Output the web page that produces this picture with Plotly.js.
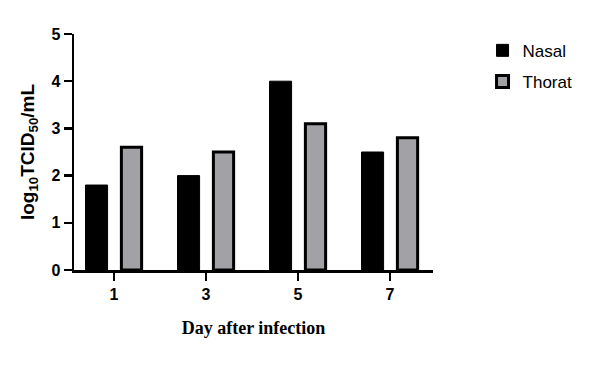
<!DOCTYPE html>
<html>
<head>
<meta charset="utf-8">
<script src="https://cdn.plot.ly/plotly-3.0.1.min.js"></script>
<style>html,body{margin:0;padding:0;background:#fff;}#chart{width:600px;height:379px;}</style>
</head>
<body>
<div id="chart"></div>
<script>
const days = ["1", "3", "5", "7"];
const nasal = [1.8, 2.0, 4.0, 2.5];
const thorat = [2.6, 2.5, 3.1, 2.8];
const yTicks = [0, 1, 2, 3, 4, 5];

const traces = [
  {
    type: "bar", name: "Nasal", x: days, y: nasal, legendgroup: "a",
    width: 0.24, offset: -0.31,
    marker: {color: "#000000", line: {color: "#000000", width: 1}}
  },
  {
    type: "bar", name: "Thorat", x: days, y: thorat, legendgroup: "b",
    width: 0.22, offset: 0.08,
    marker: {color: "#a2a2a6", line: {color: "#000000", width: 3}}
  }
];

const layout = {
  width: 600, height: 379,
  margin: {l: 74, r: 167, t: 34, b: 109},
  paper_bgcolor: "#fff", plot_bgcolor: "#fff",
  barmode: "overlay",
  showlegend: true,
  legend: {
    x: 1.138, y: 1.005, xanchor: "left", yanchor: "top",
    font: {family: "Arial, Liberation Sans", size: 17, color: "#000"},
    traceorder: "grouped",
    tracegroupgap: 6, itemwidth: 30
  },
  xaxis: {
    type: "category",
    range: [-0.435, 3.467],
    showline: true, linecolor: "#000", linewidth: 2.5,
    ticks: "outside", ticklen: 8, tickwidth: 2.5, tickcolor: "#000",
    tickfont: {family: "Arial, Liberation Sans", size: 16, color: "#000", weight: "bold"},
    showgrid: false, zeroline: false,
    title: {text: "Day after infection", standoff: 20,
      font: {family: "Times New Roman, Liberation Serif", size: 18, color: "#000", weight: "bold"}}
  },
  yaxis: {
    range: [0, 5],
    tickvals: yTicks,
    showline: true, linecolor: "#000", linewidth: 2.5,
    ticks: "outside", ticklen: 8, tickwidth: 2.5, tickcolor: "#000",
    tickfont: {family: "Arial, Liberation Sans", size: 16, color: "#000", weight: "bold"},
    showgrid: false, zeroline: false,
    title: {text: "log<sub>10</sub>TCID<sub>50</sub>/mL", standoff: 12,
      font: {family: "Arial, Liberation Sans", size: 19, color: "#000", weight: "bold"}}
  }
};

Plotly.newPlot("chart", traces, layout, {displayModeBar: false, staticPlot: true});
</script>
</body>
</html>
